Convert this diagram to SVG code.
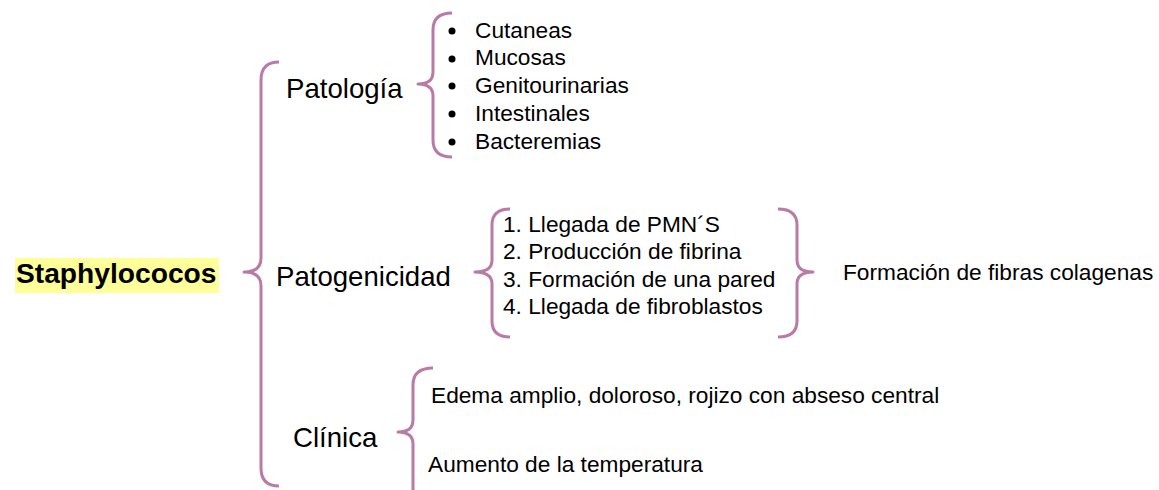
<svg xmlns="http://www.w3.org/2000/svg" width="1159" height="490" viewBox="0 0 1159 490">
<style>
.br{fill:none;stroke:#b97ba6;stroke-width:3;stroke-linecap:butt;stroke-linejoin:round}
.t{font-family:"Liberation Sans",Arial,sans-serif;fill:#000}
.m{font-size:27.6px}
.s{font-size:22.7px}
</style>
<rect width="1159" height="490" fill="#fff"/>
<g id="connectors">
<path class="br" d="M279,62 Q261,62 261,80 L261,258 Q261,272 244,272 Q261,272 261,286 L261,468 Q261,486 279,486"/>
<path class="br" d="M452,13 Q433,13 433,30 L433,72 Q433,84 418,84 Q433,84 433,96 L433,140 Q433,157 452,157"/>
<path class="br" d="M510,209 Q492,209 492,225 L492,260 Q492,272 475,272 Q492,272 492,284 L492,321 Q492,337 510,337"/>
<path class="br" d="M778,209 Q797,209 797,225 L797,260 Q797,272 813,272 Q797,272 797,284 L797,321 Q797,337 778,337"/>
<path class="br" d="M433,368 Q413,368 413,385 L413,420 Q413,432 398,432 Q413,432 413,444 L413,495"/>
</g>
<g id="root">
<rect x="15" y="258" width="204" height="35" fill="#ffff99"/>
<text class="t" x="16" y="283" font-size="28.2" font-weight="bold">Staphylococos</text>
</g>
<g id="patologia"><text class="t m" x="286" y="98">Patología</text></g>
<g id="patogenicidad"><text class="t m" x="276" y="286">Patogenicidad</text></g>
<g id="clinica"><text class="t m" x="293" y="447">Clínica</text></g>
<g id="patologia-list">
<circle cx="452" cy="31" r="3.5"/>
<circle cx="452" cy="59" r="3.5"/>
<circle cx="452" cy="86" r="3.5"/>
<circle cx="452" cy="114" r="3.5"/>
<circle cx="452" cy="142" r="3.5"/>
<text class="t s" x="475" y="38">Cutaneas</text>
<text class="t s" x="475" y="65">Mucosas</text>
<text class="t s" x="475" y="93">Genitourinarias</text>
<text class="t s" x="475" y="121">Intestinales</text>
<text class="t s" x="475" y="149">Bacteremias</text>
</g>
<g id="patogenicidad-list">
<text class="t s" x="503" y="232">1. Llegada de PMN´S</text>
<text class="t s" x="503" y="259">2. Producción de fibrina</text>
<text class="t s" x="503" y="287">3. Formación de una pared</text>
<text class="t s" x="503" y="314">4. Llegada de fibroblastos</text>
</g>
<g id="resultado"><text class="t s" x="843" y="280">Formación de fibras colagenas</text></g>
<g id="clinica-list">
<text class="t s" x="431" y="403">Edema amplio, doloroso, rojizo con abseso central</text>
<text class="t s" x="428" y="472">Aumento de la temperatura</text>
</g>
</svg>
